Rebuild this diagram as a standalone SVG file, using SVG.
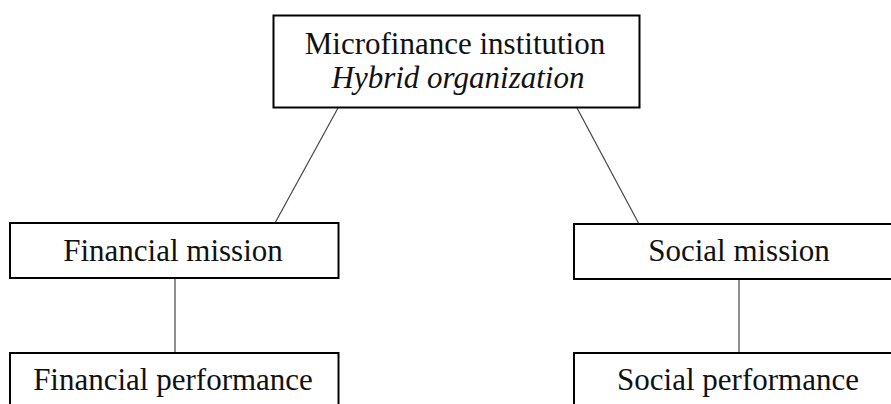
<svg xmlns="http://www.w3.org/2000/svg" width="891" height="404" viewBox="0 0 891 404">
  <style>
    .box { fill: #ffffff; stroke: #000000; stroke-width: 2; }
    .lbl { font-family: "Liberation Serif", "Times New Roman", serif; font-size: 31px; fill: #111111; text-anchor: middle; }
    .it { font-style: italic; }
    .edge { stroke: #444444; stroke-width: 1.2; fill: none; }
  </style>
  <rect width="891" height="404" fill="#ffffff"/>

  <g id="connectors">
    <line class="edge" x1="338" y1="108" x2="275" y2="223"/>
    <line class="edge" x1="577" y1="108" x2="639" y2="224"/>
    <line class="edge" x1="175" y1="278" x2="175" y2="353"/>
    <line class="edge" x1="739" y1="279" x2="739" y2="353"/>
  </g>

  <g id="mfi">
    <rect class="box" x="273.5" y="15.5" width="366" height="92"/>
    <text class="lbl" x="455" y="53.5">Microfinance institution</text>
    <text class="lbl it" x="458" y="88">Hybrid organization</text>
  </g>

  <g id="financial-mission">
    <rect class="box" x="10" y="223" width="328.5" height="55"/>
    <text class="lbl" x="173" y="261">Financial mission</text>
  </g>

  <g id="social-mission">
    <rect class="box" x="574" y="224" width="330" height="55"/>
    <text class="lbl" x="739" y="261">Social mission</text>
  </g>

  <g id="financial-performance">
    <rect class="box" x="10" y="353" width="328.5" height="70"/>
    <text class="lbl" x="173" y="390">Financial performance</text>
  </g>

  <g id="social-performance">
    <rect class="box" x="574" y="353" width="330" height="70"/>
    <text class="lbl" x="738" y="390">Social performance</text>
  </g>
</svg>
